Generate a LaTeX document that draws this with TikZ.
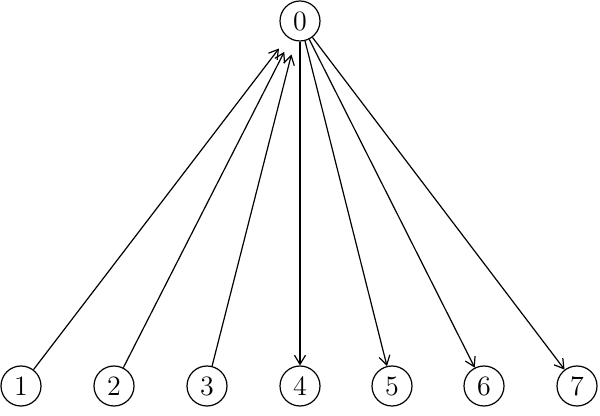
\documentclass[tikz,border=0pt]{standalone}
\usetikzlibrary{arrows.meta}
\begin{document}
\begin{tikzpicture}[x=0.5pt,y=-0.5pt,
	vertex/.style={draw,circle,line width=0.6pt,minimum size=20pt,inner sep=0pt,font=\fontsize{14}{16}\selectfont},
	link/.style={line width=0.6pt,-{Straight Barb[length=4.5pt,width=5.5pt]}}]
	\useasboundingbox (0,0) rectangle (600,416);
	\node[vertex] (n0) at (300,21) {0};
	\foreach \i/\x in {1/21,2/114,3/207,4/300,5/392,6/484,7/577}
		\node[vertex] (n\i) at (\x,386) {\i};
	\draw[link,shorten >=7pt] (n1) -- (n0);
	\draw[link,shorten >=7pt] (n2) -- (n0);
	\draw[link,shorten >=7pt] (n3) -- (n0);
	\draw[link] (n0) -- (n4);
	\draw[link] (n0) -- (n5);
	\draw[link] (n0) -- (n6);
	\draw[link] (n0) -- (n7);
\end{tikzpicture}
\end{document}
